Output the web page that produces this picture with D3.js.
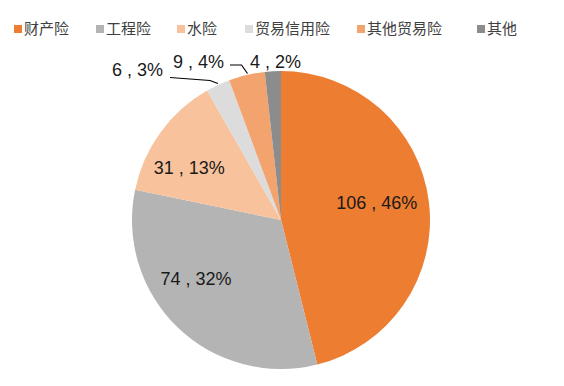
<!DOCTYPE html>
<html>
<head>
<meta charset="utf-8">
<script src="https://cdn.jsdelivr.net/npm/d3@7"></script>
<style>
  body { margin: 0; background: #fff; }
  svg { display: block; }
</style>
</head>
<body>
<div class="pieChart"></div>
<script>
var names = ["财产险", "工程险", "水险", "贸易信用险", "其他贸易险", "其他"];
var values = [106, 74, 31, 6, 9, 4];
var colors = ["#ED7D31", "#B4B4B4", "#F8C39C", "#DCDCDC", "#F2A36E", "#8C8C8C"];

var width = 564, height = 386;
var cx = 281, cy = 220, radius = 149;

var svg = d3.select(".pieChart")
  .append("svg")
    .attr("width", width)
    .attr("height", height);

var data = names.map(function(n, i) { return {name: n, value: values[i], color: colors[i]}; });
var total = d3.sum(values);

var pie = d3.pie()
  .sort(null)
  .value(function(d) { return d.value; });

var arc = d3.arc().innerRadius(0).outerRadius(radius);

var g = svg.append("g")
  .attr("transform", "translate(" + cx + "," + cy + ")");

var arcs = pie(data);

g.selectAll("path")
  .data(arcs)
  .enter()
  .append("path")
    .attr("d", arc)
    .attr("fill", function(d) { return d.data.color; });

function labelText(d) {
  return d.data.value + " , " + Math.round(d.data.value / total * 100) + "%";
}

// labels inside the big slices
var inner = d3.arc().innerRadius(radius * 0.62).outerRadius(radius * 0.62);
var innerShift = {0: [4, -6], 1: [-21, -8], 2: [-17, 2]};
g.selectAll("text.inlabel")
  .data(arcs.slice(0, 3))
  .enter()
  .append("text")
    .attr("class", "inlabel")
    .attr("x", function(d, i) { return inner.centroid(d)[0] + innerShift[i][0]; })
    .attr("y", function(d, i) { return inner.centroid(d)[1] + innerShift[i][1]; })
    .attr("text-anchor", "middle")
    .attr("dy", "0.35em")
    .attr("font-family", "Liberation Sans, Arial, sans-serif")
    .attr("font-size", "18px")
    .attr("fill", "#1a1a1a")
    .text(labelText);

// small slices: labels outside, placed above the pie
var outside = [
  {i: 3, x: -169, y: -150, line: [[-111, -142.5], [-71, -139.5], [-63, -136.5]]},
  {i: 4, x: -108, y: -158, line: [[-51, -155], [-39.5, -155], [-33.5, -146.5]]},
  {i: 5, x: -31, y: -158, line: null}
];

outside.forEach(function(o) {
  var d = arcs[o.i];
  g.append("text")
    .attr("x", o.x)
    .attr("y", o.y)
    .attr("text-anchor", "start")
    .attr("dy", "0.35em")
    .attr("font-family", "Liberation Sans, Arial, sans-serif")
    .attr("font-size", "18px")
    .attr("fill", "#1a1a1a")
    .text(labelText(d));
  if (o.line) {
    g.append("path")
      .attr("d", d3.line()(o.line))
      .attr("fill", "none")
      .attr("stroke", "#000")
      .attr("stroke-width", 1.2);
  }
});

// legend
var legendX = [14, 96, 177, 245, 357, 477];
var legend = svg.selectAll("g.legend")
  .data(data)
  .enter()
  .append("g")
    .attr("class", "legend")
    .attr("transform", function(d, i) { return "translate(" + legendX[i] + ",29)"; });

legend.append("rect")
  .attr("x", 0)
  .attr("y", -4)
  .attr("width", 8)
  .attr("height", 8)
  .attr("fill", function(d) { return d.color; });

legend.append("text")
  .attr("x", 10)
  .attr("y", 0)
  .attr("dy", "0.36em")
  .attr("font-family", "Noto Sans CJK SC, sans-serif")
  .attr("font-size", "15px")
  .attr("fill", "#404040")
  .text(function(d) { return d.name; });
</script>
</body>
</html>
